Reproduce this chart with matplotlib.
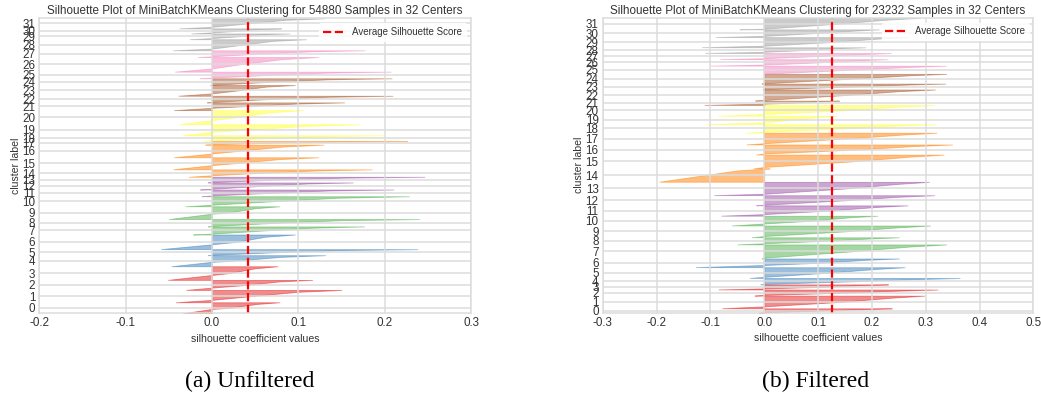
import numpy as np
import matplotlib.pyplot as plt
from matplotlib.lines import Line2D

# (a) unfiltered: 54880 samples in 32 clusters
a_sizes = [2060, 2300, 1870, 2540, 2060, 1120, 2730, 1500, 1370, 2380, 1870, 1250, 1310, 1050, 1380, 2250,
           2350, 670, 1070, 2060, 2620, 1440, 1230, 2000, 1250, 1230, 2730, 1250, 2060, 1070, 940, 1870]
a_min = [-0.034, -0.042, -0.030, -0.051, -0.047, -0.005, -0.059, -0.022, -0.005, -0.050, -0.031, -0.012,
         -0.014, -0.005, -0.027, -0.045, -0.044, -0.008, -0.010, -0.034, -0.038, -0.044, -0.006, -0.039,
         -0.002, -0.014, -0.043, -0.016, -0.045, -0.026, -0.024, -0.038]
# fraction of the cluster height where the sorted values cross zero
a_zero = [0.40, 0.19, 0.23, 0.36, 0.40, 0.05, 0.33, 0.10, 0.05, 0.42, 0.15, 0.10, 0.10, 0.05, 0.20, 0.35,
          0.30, 0.10, 0.10, 0.30, 0.29, 0.30, 0.05, 0.22, 0.02, 0.10, 0.22, 0.10, 0.15, 0.20, 0.20, 0.15]
# values at 50% and 85% of the cluster height
a_q50 = [0.020, 0.045, 0.040, 0.020, 0.025, 0.075, 0.028, 0.060, 0.075, 0.018, 0.070, 0.065, 0.055, 0.075,
         0.050, 0.025, 0.030, 0.065, 0.065, 0.040, 0.030, 0.035, 0.065, 0.030, 0.070, 0.065, 0.032, 0.055,
         0.035, 0.030, 0.028, 0.042]
a_q85 = [0.052, 0.100, 0.078, 0.050, 0.080, 0.150, 0.062, 0.118, 0.150, 0.050, 0.145, 0.135, 0.110, 0.155,
         0.120, 0.078, 0.082, 0.145, 0.128, 0.110, 0.068, 0.098, 0.135, 0.062, 0.135, 0.132, 0.080, 0.115,
         0.070, 0.060, 0.054, 0.085]
a_max = [0.078, 0.150, 0.116, 0.076, 0.131, 0.238, 0.096, 0.176, 0.240, 0.078, 0.228, 0.210, 0.163, 0.246,
         0.185, 0.123, 0.129, 0.226, 0.198, 0.171, 0.106, 0.153, 0.209, 0.096, 0.208, 0.207, 0.123, 0.177,
         0.109, 0.090, 0.080, 0.130]
a_avg = 0.042

# (b) filtered: 23232 samples in 32 clusters
b_sizes = [350, 1000, 480, 400, 500, 850, 690, 1110, 560, 930, 770, 820, 800, 1060, 1060, 1090,
           800, 930, 670, 660, 850, 340, 880, 460, 770, 640, 510, 480, 450, 800, 610, 912]
b_min = [-0.010, -0.078, -0.018, -0.085, -0.007, -0.027, -0.127, -0.005, -0.050, -0.023, -0.060, -0.080,
         -0.015, -0.093, -0.195, -0.020, -0.015, -0.033, -0.035, -0.107, -0.085, -0.111, -0.017, -0.003,
         -0.005, 0.000, -0.100, -0.082, -0.110, -0.116, -0.090, -0.046]
b_zero = [0.10, 0.15, 0.10, 0.20, 0.05, 0.10, 0.25, 0.05, 0.15, 0.10, 0.20, 0.15, 0.05, 0.10, 0.98, 0.10,
          0.10, 0.10, 0.10, 0.20, 0.15, 0.30, 0.05, 0.02, 0.02, 0.00, 0.15, 0.15, 0.20, 0.15, 0.15, 0.05]
b_q50 = [0.11, 0.14, 0.15, 0.10, 0.17, 0.12, 0.10, 0.16, 0.11, 0.15, 0.09, 0.12, 0.15, 0.15, -0.11, 0.16,
         0.17, 0.15, 0.15, 0.05, 0.15, 0.05, 0.15, 0.16, 0.16, 0.16, 0.10, 0.10, 0.07, 0.12, 0.09, 0.14]
b_q85 = [0.19, 0.24, 0.26, 0.18, 0.29, 0.21, 0.19, 0.27, 0.20, 0.25, 0.16, 0.21, 0.25, 0.25, -0.05, 0.27,
         0.28, 0.26, 0.25, 0.10, 0.25, 0.10, 0.25, 0.27, 0.27, 0.27, 0.18, 0.19, 0.14, 0.21, 0.17, 0.23]
b_max = [0.237, 0.297, 0.322, 0.230, 0.363, 0.261, 0.250, 0.338, 0.250, 0.308, 0.210, 0.266, 0.316, 0.306,
         0.010, 0.333, 0.349, 0.320, 0.318, 0.133, 0.314, 0.139, 0.317, 0.336, 0.338, 0.338, 0.229, 0.235,
         0.188, 0.269, 0.213, 0.290]
b_avg = 0.125

colors = plt.get_cmap('Set1')(np.linspace(0, 1, 32))
txt = '#333333'
plt.rcParams['font.family'] = 'Liberation Sans'
plt.rcParams['axes.unicode_minus'] = False


def silhouette(ax, sizes, mins, zeros, q50, q85, maxs, avg, title, xlim, xticks):
    y_lower = 0
    ticks = []
    for i in range(len(sizes)):
        n = sizes[i]
        pts = sorted([(0.0, mins[i]), (zeros[i], 0.0), (0.5, q50[i]), (0.85, q85[i]), (1.0, maxs[i])])
        ys = [y_lower + f * n for f, v in pts]
        xs = [v for f, v in pts]
        ax.fill_betweenx(ys, 0, xs, facecolor=colors[i], edgecolor=colors[i], alpha=0.5, lw=0.6)
        ticks.append(y_lower + 0.5 * n)
        y_lower += n + 10
    ax.axvline(avg, color='red', ls='--', lw=1.6)
    ax.set_ylim(0, y_lower)
    ax.set_xlim(*xlim)
    ax.set_xticks(xticks)
    ax.set_yticks(ticks)
    ax.set_yticklabels([str(i) for i in range(len(sizes))])
    ax.grid(True, color='#dcdcdc', lw=1.1)
    ax.tick_params(length=0, labelsize=8.4, colors=txt, pad=3)
    for s in ax.spines.values():
        s.set_color('#dcdcdc')
        s.set_linewidth(1.1)
    ax.set_title(title, fontsize=8.4, color=txt, pad=3)
    ax.set_xlabel('silhouette coefficient values', fontsize=7.6, color=txt, labelpad=3)
    ax.set_ylabel('cluster label', fontsize=7.6, color=txt, labelpad=1)
    handle = Line2D([], [], color='red', ls='--', lw=1.6)
    leg = ax.legend([handle], ['Average Silhouette Score'], loc='upper right', fontsize=7,
                    frameon=True, framealpha=0.85, edgecolor='white', handlelength=2.2)
    for t in leg.get_texts():
        t.set_color(txt)


fig = plt.figure(figsize=(10.41, 4.03), dpi=100)
ax1 = fig.add_axes([0.0378, 0.2226, 0.4147, 0.732])
ax2 = fig.add_axes([0.579, 0.224, 0.4137, 0.732])

silhouette(ax1, a_sizes, a_min, a_zero, a_q50, a_q85, a_max, a_avg,
           'Silhouette Plot of MiniBatchKMeans Clustering for 54880 Samples in 32 Centers',
           (-0.2, 0.3), [-0.2, -0.1, 0.0, 0.1, 0.2, 0.3])
silhouette(ax2, b_sizes, b_min, b_zero, b_q50, b_q85, b_max, b_avg,
           'Silhouette Plot of MiniBatchKMeans Clustering for 23232 Samples in 32 Centers',
           (-0.3, 0.5), [-0.3, -0.2, -0.1, 0.0, 0.1, 0.2, 0.3, 0.4, 0.5])

fig.text(0.240, 0.054, '(a) Unfiltered', ha='center', va='center', fontsize=17,
         family='Liberation Serif', color='black')
fig.text(0.783, 0.054, '(b) Filtered', ha='center', va='center', fontsize=17,
         family='Liberation Serif', color='black')

fig.savefig('out.png', dpi=100)
